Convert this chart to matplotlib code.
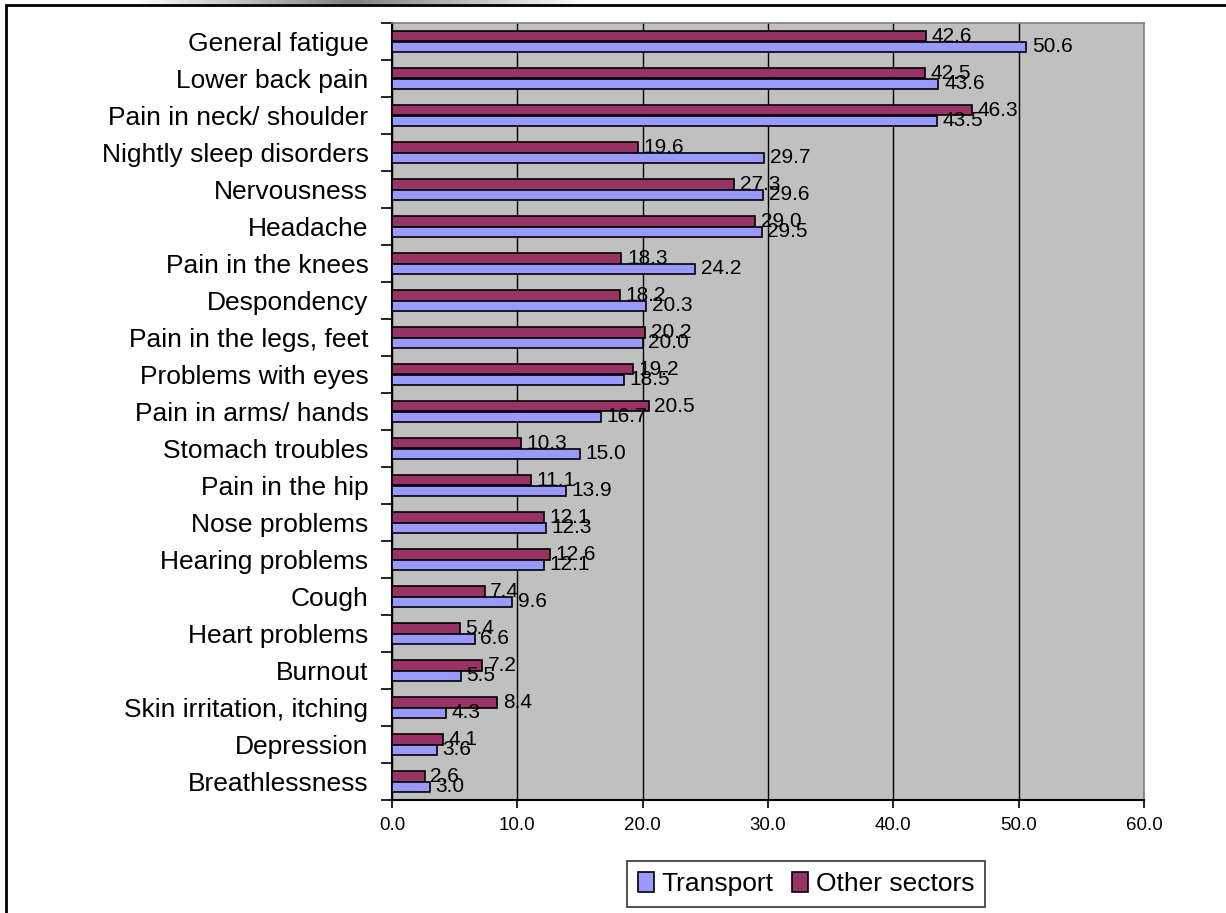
import numpy as np
import matplotlib
matplotlib.use("Agg")
import matplotlib.pyplot as plt
from matplotlib.patches import Patch, Rectangle

plt.rcParams['font.family'] = ['Liberation Sans', 'DejaVu Sans']

categories = ["General fatigue", "Lower back pain", "Pain in neck/ shoulder",
              "Nightly sleep disorders", "Nervousness", "Headache",
              "Pain in the knees", "Despondency", "Pain in the legs, feet",
              "Problems with eyes", "Pain in arms/ hands", "Stomach troubles",
              "Pain in the hip", "Nose problems", "Hearing problems", "Cough",
              "Heart problems", "Burnout", "Skin irritation, itching",
              "Depression", "Breathlessness"]
transport = [50.6, 43.6, 43.5, 29.7, 29.6, 29.5, 24.2, 20.3, 20.0, 18.5, 16.7,
             15.0, 13.9, 12.3, 12.1, 9.6, 6.6, 5.5, 4.3, 3.6, 3.0]
other = [42.6, 42.5, 46.3, 19.6, 27.3, 29.0, 18.3, 18.2, 20.2, 19.2, 20.5,
         10.3, 11.1, 12.1, 12.6, 7.4, 5.4, 7.2, 8.4, 4.1, 2.6]
xticks = [0, 10, 20, 30, 40, 50, 60]

c_transport = "#9999FF"
c_other = "#993366"

W, H = 1226, 913
fig = plt.figure(figsize=(W / 100, H / 100), dpi=100)

ax = fig.add_axes([392 / W, 1 - 800 / H, (1144 - 392) / W, (800 - 23) / H])
ax.set_facecolor("#C0C0C0")

y = np.arange(len(categories))
h = 0.28
ax.barh(y - h / 2, other, height=h, color=c_other, edgecolor="black", lw=1.2, zorder=3)
ax.barh(y + h / 2, transport, height=h, color=c_transport, edgecolor="black", lw=1.2, zorder=3)

# value labels just right of each bar
for i in range(len(categories)):
    ax.annotate(f"{other[i]:.1f}", (other[i], y[i] - h / 2), xytext=(4, 0),
                textcoords="offset points", va="center", ha="left", fontsize=15, zorder=4)
    ax.annotate(f"{transport[i]:.1f}", (transport[i], y[i] + h / 2), xytext=(4, 0),
                textcoords="offset points", va="center", ha="left", fontsize=15, zorder=4)

ax.set_xlim(0, 60)
ax.set_ylim(len(categories) - 0.5, -0.5)
ax.set_xticks(xticks)
ax.set_xticklabels([f"{t:.1f}" for t in xticks], fontsize=13.5)
ax.set_yticks(y)
ax.set_yticklabels(categories, fontsize=19)
ax.set_yticks(np.arange(len(categories) + 1) - 0.5, minor=True)
ax.tick_params(axis="y", which="major", length=0, pad=17)
ax.tick_params(axis="y", which="minor", length=8, width=1.2, color="black", direction="out")
ax.tick_params(axis="x", which="major", length=6, width=1.2, pad=6, direction="out")
ax.xaxis.grid(True, color="black", lw=1)
ax.set_axisbelow(True)
for s in ["top", "right"]:
    ax.spines[s].set_color("#808080")
    ax.spines[s].set_linewidth(1.2)
for s in ["left", "bottom"]:
    ax.spines[s].set_color("black")
    ax.spines[s].set_linewidth(1.5)

handles = [Patch(facecolor=c_transport, edgecolor="black", lw=1.2, label="Transport"),
           Patch(facecolor=c_other, edgecolor="black", lw=1.2, label="Other sectors")]
leg = fig.legend(handles=handles, loc="center", bbox_to_anchor=(806 / W, 1 - 884 / H),
                 ncol=2, fontsize=19, frameon=True, fancybox=False, handlelength=0.6,
                 handleheight=0.8, handletextpad=0.3, columnspacing=0.7, borderpad=0.4,
                 borderaxespad=0)
leg.get_frame().set_edgecolor("black")
leg.get_frame().set_linewidth(1.2)

# outer frame and grey strip along the top
grad = np.concatenate([np.linspace(1.0, 0.5, 220), np.linspace(0.5, 1.0, 233)])
strip = fig.add_axes([133 / W, 1 - 4 / H, 453 / W, 4 / H])
strip.imshow(grad[None, :], cmap="gray", vmin=0, vmax=1, aspect="auto")
strip.axis("off")
fig.add_artist(Rectangle((6 / W, -0.01), 1.0, 1 - 5 / H + 0.01, transform=fig.transFigure,
                         fill=False, edgecolor="black", lw=2))

fig.savefig("out.png", dpi=100)
